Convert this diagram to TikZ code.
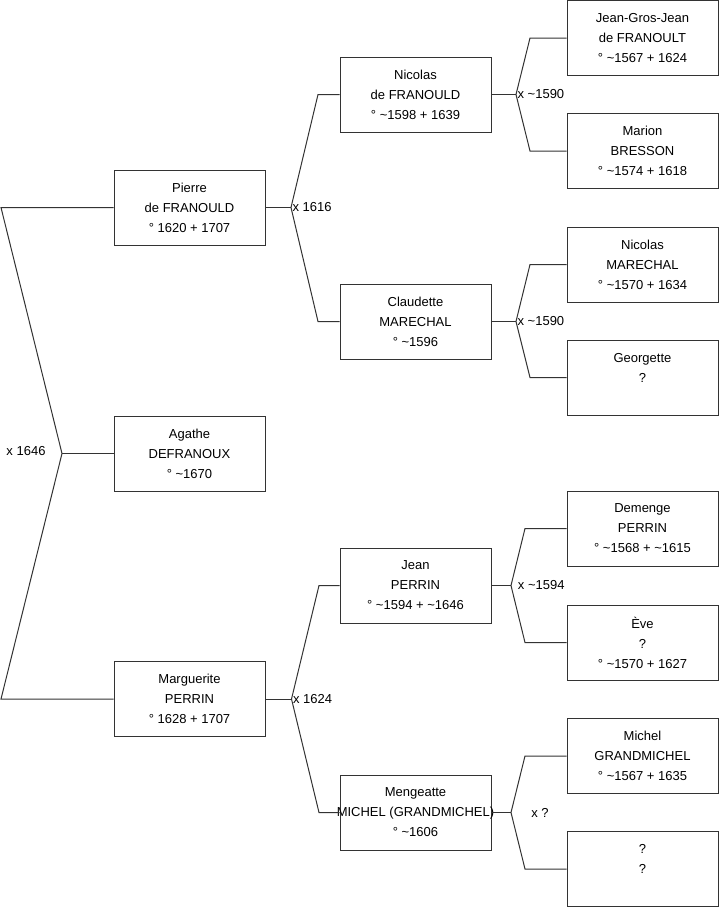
\documentclass[tikz,border=0pt]{standalone}
\usepackage{fontspec}
\setmainfont{Liberation Sans}
\usetikzlibrary{positioning}
\newcommand{\ca}{\textasciitilde}

\begin{document}
\begin{tikzpicture}[x=0.75pt, y=-0.75pt,
    person/.style={draw=black!80, line width=0.75pt, minimum width=113.25pt,
                   minimum height=56.25pt, align=center, inner sep=0pt,
                   font=\fontsize{9.75}{15}\selectfont},
    link/.style={line width=0.75pt, draw=black!80},
    wed/.style={anchor=west, inner sep=1pt, font=\fontsize{9.75}{11}\selectfont}
  ]
    \useasboundingbox (0,0) rectangle (719,908);

    % generation 1
    \node[person] (pierre) at (189.5,207.5) {Pierre\\ de FRANOULD\\ ° 1620 + 1707};
    \node[person] (agathe) at (189.5,453.5) {Agathe\\ DEFRANOUX\\ ° \ca1670};
    \node[person] (marguerite) at (189.5,699) {Marguerite\\ PERRIN\\ ° 1628 + 1707};

    % generation 2
    \node[person] (nicolasF) at (415.5,94.5) {Nicolas\\ de FRANOULD\\ ° \ca1598 + 1639};
    \node[person] (claudette) at (415.5,321.5) {Claudette\\ MARECHAL\\ ° \ca1596};
    \node[person] (jean) at (415.5,585.5) {Jean\\ PERRIN\\ ° \ca1594 + \ca1646};
    \node[person] (mengeatte) at (415.5,812.5)
      {Mengeatte\\ \makebox[0pt]{MICHEL (GRANDMICHEL)}\\ ° \ca1606};

    % generation 3
    \node[person] (jgj) at (642.5,38) {Jean-Gros-Jean\\ de FRANOULT\\ ° \ca1567 + 1624};
    \node[person] (marion) at (642.5,151) {Marion\\ BRESSON\\ ° \ca1574 + 1618};
    \node[person] (nicolasM) at (642.5,264.5) {Nicolas\\ MARECHAL\\ ° \ca1570 + 1634};
    \node[person] (georgette) at (642.5,377.5) {Georgette\\ ?\\ \mbox{}};
    \node[person] (demenge) at (642.5,528.5) {Demenge\\ PERRIN\\ ° \ca1568 + \ca1615};
    \node[person] (eve) at (642.5,642.5) {Ève\\ ?\\ ° \ca1570 + 1627};
    \node[person] (michel) at (642.5,756) {Michel\\ GRANDMICHEL\\ ° \ca1567 + 1635};
    \node[person] (unknown) at (642.5,869) {?\\ ?\\ \mbox{}};

    % marriage forks
    \coordinate (w0) at (62,453.5);
    \coordinate (w0a) at (1,207.5);
    \coordinate (w0b) at (1,699);
    \draw[link] (pierre.west) -- (w0a) -- (w0) -- (w0b) -- (marguerite.west);
    \draw[link] (w0) -- (agathe.west);
    \node[font=\fontsize{9.75}{11}\selectfont] (w0lbl) at (26,451) {x 1646};

    \coordinate (w1) at (291,207.5);
    \draw[link] (pierre.east) -- (w1);
    \draw[link] (nicolasF.west) -- (318,94.5) -- (w1) -- (318,321.5) -- (claudette.west);
    \node[wed] (w1lbl) at (w1) {x 1616};

    \coordinate (w2) at (516,94.5);
    \draw[link] (nicolasF.east) -- (w2);
    \draw[link] (jgj.west) -- (530,38) -- (w2) -- (530,151) -- (marion.west);
    \node[wed] (w2lbl) at (w2) {x \ca1590};

    \coordinate (w3) at (516,321.5);
    \draw[link] (claudette.east) -- (w3);
    \draw[link] (nicolasM.west) -- (530,264.5) -- (w3) -- (530,377.5) -- (georgette.west);
    \node[wed] (w3lbl) at (w3) {x \ca1590};

    \coordinate (w4) at (291.5,699);
    \draw[link] (marguerite.east) -- (w4);
    \draw[link] (jean.west) -- (319,585.5) -- (w4) -- (319,812.5) -- (mengeatte.west);
    \node[wed] (w4lbl) at (w4) {x 1624};

    \coordinate (w5) at (511,585.5);
    \draw[link] (jean.east) -- (w5);
    \draw[link] (demenge.west) -- (525,528.5) -- (w5) -- (525,642.5) -- (eve.west);
    \node[wed, xshift=4pt] (w5lbl) at (w5) {x \ca1594};

    \coordinate (w6) at (511,812.5);
    \draw[link] (mengeatte.east) -- (w6);
    \draw[link] (michel.west) -- (525,756) -- (w6) -- (525,869) -- (unknown.west);
    \node[wed, xshift=14pt] (w6lbl) at (w6) {x ?};
\end{tikzpicture}
\end{document}
